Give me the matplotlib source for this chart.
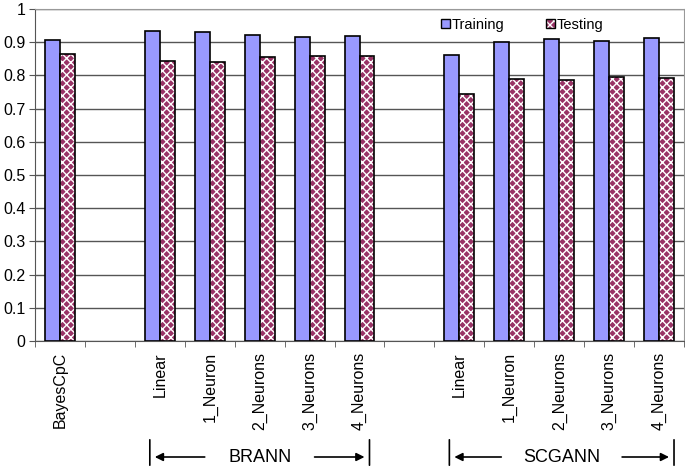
import matplotlib
matplotlib.use('Agg')
import numpy as np
from matplotlib import pyplot as plt
from matplotlib.patches import Patch

plt.rcParams['font.family'] = ['Liberation Sans', 'DejaVu Sans']

# categories (empty strings are spacer slots)
labels = ['BayesCpC', '',
          'Linear', '1_Neuron', '2_Neurons', '3_Neurons', '4_Neurons', '',
          'Linear', '1_Neuron', '2_Neurons', '3_Neurons', '4_Neurons']
training = [0.907, np.nan,
            0.934, 0.931, 0.922, 0.915, 0.920, np.nan,
            0.861, 0.900, 0.909, 0.904, 0.913]
testing = [0.865, np.nan,
           0.844, 0.840, 0.854, 0.859, 0.859, np.nan,
           0.744, 0.789, 0.786, 0.794, 0.792]
groups = [('BRANN', 2, 6), ('SCGANN', 8, 12)]

W, H = 685, 471
fig = plt.figure(figsize=(W / 100, H / 100), dpi=100)
ax = fig.add_axes([35 / W, (H - 341) / H, 649 / W, 332 / H])

x = np.arange(len(labels))
bw = 0.3
ax.bar(x - bw / 2, training, bw, color='#9999ff', edgecolor='black',
       linewidth=1.2, label='Training', zorder=3)
# patterned bars: white hatch on maroon, then a black outline on top
ax.bar(x + bw / 2, testing, bw, color='#993366', edgecolor='white',
       hatch='xxxx', linewidth=0, zorder=3)
ax.bar(x + bw / 2, testing, bw, fill=False, edgecolor='black',
       linewidth=1.2, zorder=4)

ax.set_xlim(-0.5, len(labels) - 0.5)
ax.set_ylim(0, 1)
ax.set_yticks(np.arange(0, 1.01, 0.1))
ax.set_yticklabels(['0', '0.1', '0.2', '0.3', '0.4', '0.5', '0.6', '0.7',
                    '0.8', '0.9', '1'], fontsize=11.5)
ax.yaxis.grid(True, color='#555555', linewidth=1, zorder=0)

ax.set_xticks(x)
ax.set_xticklabels(labels, rotation=90, fontsize=11.5)
ax.tick_params(axis='x', which='major', length=0, pad=8)
ax.set_xticks(np.arange(-0.5, len(labels), 1), minor=True)
ax.tick_params(axis='x', which='minor', length=4, direction='out', color='#555555')
ax.tick_params(axis='y', length=4, direction='out', color='#555555', pad=3)

for s in ['top', 'right']:
    ax.spines[s].set_color('#999999')
ax.spines['left'].set_color('#555555')
ax.spines['bottom'].set_color('#555555')

h_train = Patch(facecolor='#9999ff', edgecolor='black', linewidth=1)
h_test = (Patch(facecolor='#993366', edgecolor='white', hatch='xxxx', linewidth=0),
          Patch(fill=False, edgecolor='black', linewidth=1))
ax.legend([h_train, h_test], ['Training', 'Testing'], ncol=2, frameon=False,
          loc='center left', bbox_to_anchor=(428 / W, 1 - 25 / H),
          bbox_transform=fig.transFigure, fontsize=10.5, handlelength=0.6,
          handleheight=0.6, handletextpad=0.1, columnspacing=2.9)

# group brackets below the tick labels
yl = 1 - 457 / H
for name, i0, i1 in groups:
    xl, xr = i0 - 0.2, i1 + 0.3
    if name == 'BRANN':
        xr = i1 + 0.2
    for xv in (xl, xr):
        ax.annotate('', xy=(xv, 1 - 437 / H), xytext=(xv, 1 - 468 / H),
                    xycoords=('data', 'figure fraction'),
                    arrowprops=dict(arrowstyle='-', color='black', lw=1.2),
                    annotation_clip=False)
    xc = (xl + xr) / 2
    ax.annotate(name, xy=(xc, yl), xycoords=('data', 'figure fraction'),
                ha='center', va='center', fontsize=13, annotation_clip=False)
    gap = 0.55 + 0.11 * len(name)
    ax.annotate('', xy=(xl + 0.1, yl), xytext=(xc - gap, yl),
                xycoords=('data', 'figure fraction'),
                arrowprops=dict(arrowstyle='-|>', color='black', lw=1.2,
                                mutation_scale=12, shrinkA=0, shrinkB=0),
                annotation_clip=False)
    ax.annotate('', xy=(xr - 0.1, yl), xytext=(xc + gap, yl),
                xycoords=('data', 'figure fraction'),
                arrowprops=dict(arrowstyle='-|>', color='black', lw=1.2,
                                mutation_scale=12, shrinkA=0, shrinkB=0),
                annotation_clip=False)

fig.savefig('out.png', dpi=100)
